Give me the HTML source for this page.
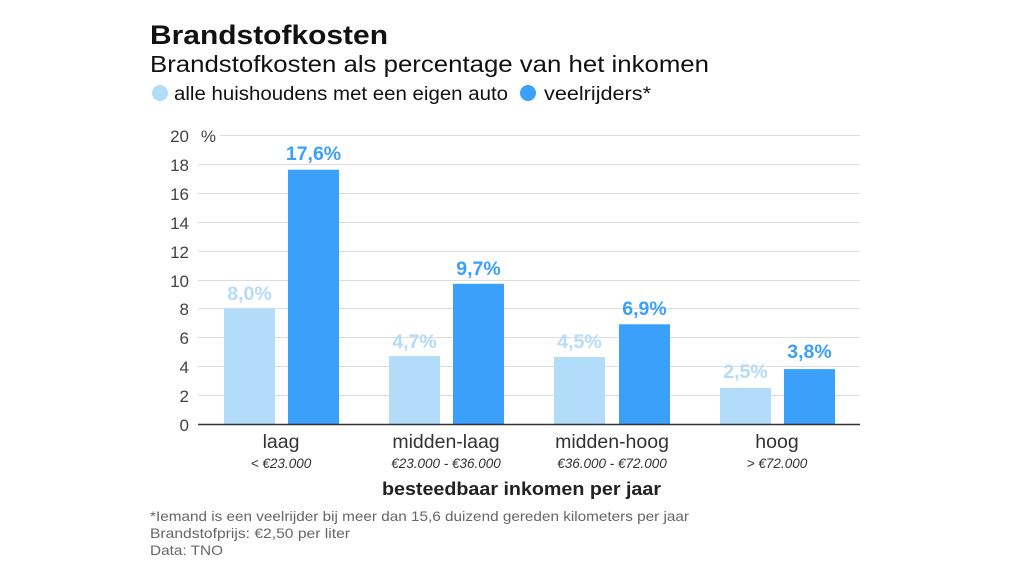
<!DOCTYPE html>
<html><head><meta charset="utf-8"><style>
body{margin:0;width:1024px;height:576px;background:#fff;font-family:"Liberation Sans",sans-serif;overflow:hidden}
</style></head><body>
<svg width="1024" height="576" xmlns="http://www.w3.org/2000/svg" font-family="Liberation Sans, sans-serif">
<text x="150" y="44" font-size="27" font-weight="bold" fill="#111" textLength="238" lengthAdjust="spacingAndGlyphs">Brandstofkosten</text>
<text x="150" y="72" font-size="23" fill="#111" textLength="559" lengthAdjust="spacingAndGlyphs">Brandstofkosten als percentage van het inkomen</text>
<circle cx="160" cy="93" r="8" fill="#b3dbfa"/>
<text x="174" y="100" font-size="19" fill="#111" textLength="334" lengthAdjust="spacingAndGlyphs">alle huishoudens met een eigen auto</text>
<circle cx="528" cy="93" r="8" fill="#3aa0fa"/>
<text x="544" y="100" font-size="19" fill="#111" textLength="107" lengthAdjust="spacingAndGlyphs">veelrijders*</text>
<g stroke="#ddd" stroke-width="1">
<line x1="220" x2="860" y1="135.5" y2="135.5"/>
<line x1="198" x2="860" y1="164.5" y2="164.5"/>
<line x1="198" x2="860" y1="193.5" y2="193.5"/>
<line x1="198" x2="860" y1="222.5" y2="222.5"/>
<line x1="198" x2="860" y1="251.5" y2="251.5"/>
<line x1="198" x2="860" y1="280.5" y2="280.5"/>
<line x1="198" x2="860" y1="308.5" y2="308.5"/>
<line x1="198" x2="860" y1="337.5" y2="337.5"/>
<line x1="198" x2="860" y1="366.5" y2="366.5"/>
<line x1="198" x2="860" y1="395.5" y2="395.5"/>
</g>
<g font-size="17" fill="#444" text-anchor="end">
<text x="189" y="142">20</text><text x="216" y="142">%</text>
<text x="189" y="171">18</text><text x="189" y="200">16</text><text x="189" y="229">14</text>
<text x="189" y="258">12</text><text x="189" y="287">10</text><text x="189" y="315">8</text>
<text x="189" y="344">6</text><text x="189" y="373">4</text><text x="189" y="402">2</text><text x="189" y="431">0</text>
</g>
<g fill="#b3dbfa">
<rect x="224" y="308.4" width="51" height="115.6"/>
<rect x="389" y="356.1" width="51" height="67.9"/>
<rect x="554" y="357" width="51" height="67"/>
<rect x="720" y="387.9" width="51" height="36.1"/>
</g>
<g fill="#3aa0fa">
<rect x="288" y="169.7" width="51" height="254.3"/>
<rect x="453" y="283.8" width="51" height="140.2"/>
<rect x="619" y="324.3" width="51" height="99.7"/>
<rect x="784" y="369.1" width="51" height="54.9"/>
</g>
<line x1="198" x2="860" y1="424.5" y2="424.5" stroke="#333" stroke-width="1.5"/>
<g font-size="19.5" font-weight="bold" text-anchor="middle">
<text x="249.5" y="300" fill="#b3dbfa">8,0%</text>
<text x="313.5" y="160" fill="#3aa0fa">17,6%</text>
<text x="414.5" y="348" fill="#b3dbfa">4,7%</text>
<text x="478.5" y="275" fill="#3aa0fa">9,7%</text>
<text x="579.5" y="348" fill="#b3dbfa">4,5%</text>
<text x="644.5" y="315" fill="#3aa0fa">6,9%</text>
<text x="745.5" y="378" fill="#b3dbfa">2,5%</text>
<text x="809.5" y="358" fill="#3aa0fa">3,8%</text>
</g>
<g font-size="19.5" fill="#333" text-anchor="middle">
<text x="281" y="448">laag</text>
<text x="446" y="448">midden-laag</text>
<text x="612" y="448">midden-hoog</text>
<text x="777" y="448">hoog</text>
</g>
<g font-size="13.5" font-style="italic" fill="#333" text-anchor="middle">
<text x="281" y="468">&lt; €23.000</text>
<text x="446" y="468">€23.000 - €36.000</text>
<text x="612" y="468">€36.000 - €72.000</text>
<text x="777" y="468">&gt; €72.000</text>
</g>
<text x="382" y="495" font-size="18" font-weight="bold" fill="#222" textLength="279" lengthAdjust="spacingAndGlyphs">besteedbaar inkomen per jaar</text>
<g font-size="14" fill="#666">
<text x="150" y="521" textLength="539" lengthAdjust="spacingAndGlyphs">*Iemand is een veelrijder bij meer dan 15,6 duizend gereden kilometers per jaar</text>
<text x="150" y="538" textLength="200" lengthAdjust="spacingAndGlyphs">Brandstofprijs: €2,50 per liter</text>
<text x="150" y="555" textLength="73" lengthAdjust="spacingAndGlyphs">Data: TNO</text>
</g>
</svg>
</body></html>
